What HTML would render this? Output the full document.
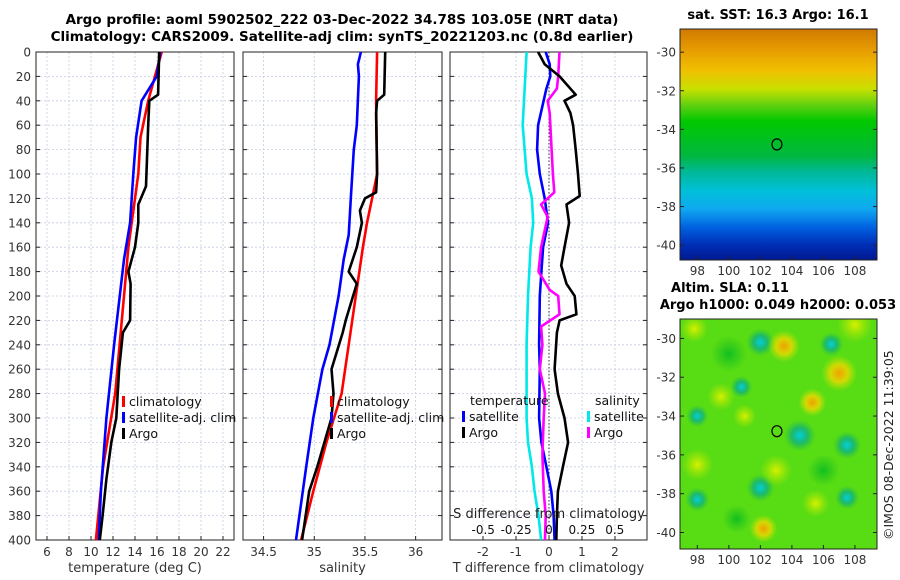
<!DOCTYPE html>
<html><head><meta charset="utf-8"><style>
html,body{margin:0;padding:0;background:#fff}
svg{display:block;font-family:"DejaVu Sans","Liberation Sans",sans-serif}
</style></head><body>
<svg id="fig" width="900" height="580" viewBox="0 0 900 580" xmlns="http://www.w3.org/2000/svg">
<defs>
<linearGradient id="sstGrad" x1="0" y1="0" x2="0" y2="1">
<stop offset="0" stop-color="#d07a00"/><stop offset="0.1" stop-color="#e8a000"/>
<stop offset="0.18" stop-color="#f0c000"/><stop offset="0.26" stop-color="#c8e000"/>
<stop offset="0.33" stop-color="#60d010"/><stop offset="0.4" stop-color="#00c800"/>
<stop offset="0.55" stop-color="#00b840"/><stop offset="0.62" stop-color="#00b898"/>
<stop offset="0.7" stop-color="#00c0d8"/><stop offset="0.78" stop-color="#10a8f0"/>
<stop offset="0.86" stop-color="#0060e0"/><stop offset="0.93" stop-color="#0030b8"/>
<stop offset="1" stop-color="#001890"/>
</linearGradient>
<radialGradient id="blobC"><stop offset="0" stop-color="#00d0e0"/><stop offset="0.5" stop-color="#10b080" stop-opacity="0.8"/><stop offset="1" stop-color="#20c040" stop-opacity="0"/></radialGradient>
<radialGradient id="blobO"><stop offset="0" stop-color="#f0a000"/><stop offset="0.5" stop-color="#f0d800" stop-opacity="0.8"/><stop offset="1" stop-color="#c0e800" stop-opacity="0"/></radialGradient>
<radialGradient id="blobY"><stop offset="0" stop-color="#d8f000"/><stop offset="1" stop-color="#b0e800" stop-opacity="0"/></radialGradient>
<radialGradient id="blobG"><stop offset="0" stop-color="#10c020"/><stop offset="1" stop-color="#20c020" stop-opacity="0"/></radialGradient>
</defs>
<g font-weight="bold" font-size="13.5" text-anchor="middle" fill="#000">
<text x="342" y="24">Argo profile: aoml 5902502_222 03-Dec-2022 34.78S 103.05E (NRT data)</text>
<text x="342" y="41">Climatology: CARS2009. Satellite-adj clim: synTS_20221203.nc (0.8d earlier)</text>
</g>
<g id="panels"></g>
<g id="maps"></g>
<text transform="translate(893,540) rotate(-90)" font-size="12.5" fill="#222">©IMOS 08-Dec-2022 11:39:05</text>
</svg>
<script>
// ---- data (depth in m) ----
const tClimDepth=[0,40,70,100,160,220,280,340,400];
const tClimVal=[16.43,15.2,14.5,14.3,13.4,12.8,12.2,11.1,10.45];
const tSatDepth=[0,20,40,70,100,140,170,240,300,360,400];
const tSatVal=[16.3,15.97,14.6,14.1,13.85,13.55,13.0,12.1,11.4,10.9,10.7];
const tArgoDepth=[0,35,40,60,110,125,140,160,180,190,220,230,260,300,320,350,380,400];
const tArgoVal=[16.2,16.1,15.3,15.2,15.0,14.3,14.3,14.0,13.4,13.6,13.55,12.9,12.55,12.3,11.85,11.4,11.05,10.8];
const sClimDepth=[0,40,100,120,140,160,200,240,280,320,360,400];
const sClimVal=[35.62,35.61,35.62,35.57,35.52,35.48,35.41,35.34,35.27,35.12,34.99,34.87];
const sSatDepth=[0,10,20,60,80,120,150,170,200,240,260,300,340,400];
const sSatVal=[35.46,35.43,35.44,35.42,35.39,35.36,35.34,35.29,35.24,35.15,35.08,34.99,34.92,34.82];
const sArgoDepth=[0,35,40,50,100,115,120,130,140,160,180,190,220,230,260,280,300,320,340,360,400];
const sArgoVal=[35.7,35.69,35.62,35.61,35.62,35.61,35.5,35.45,35.47,35.42,35.34,35.42,35.31,35.28,35.17,35.19,35.17,35.1,35.03,34.95,34.88];
const dTSatDepth=[0,10,20,30,60,80,100,120,140,160,180,200,240,260,300,320,340,360,380,400];
const dTSatVal=[-0.1,0.02,0.04,-0.08,-0.33,-0.36,-0.28,-0.13,-0.03,-0.18,-0.23,-0.28,-0.3,-0.28,-0.3,-0.23,-0.08,0.07,0.14,0.17];
const dTArgoDepth=[0,10,20,35,40,50,60,80,100,118,125,140,160,175,190,200,215,220,230,260,280,300,320,340,360,380,400];
const dTArgoVal=[-0.33,-0.13,0.32,0.81,0.47,0.65,0.73,0.81,0.88,0.93,0.53,0.61,0.47,0.37,0.53,0.78,0.83,0.32,0.24,0.17,0.27,0.47,0.58,0.42,0.27,0.24,0.22];
const dSSatDepth=[0,60,100,120,140,160,200,240,300,320,340,360,380,400];
const dSSatVal=[-0.17,-0.2,-0.17,-0.13,-0.12,-0.14,-0.16,-0.17,-0.17,-0.16,-0.13,-0.11,-0.08,-0.06];
const dSArgoDepth=[0,20,30,40,50,80,100,115,125,135,160,180,195,200,215,225,240,260,280,300,330,360,380,400];
const dSArgoVal=[0.08,0.07,0.06,-0.01,0.005,0.02,0.03,0.04,-0.06,-0.01,-0.06,-0.08,0.005,0.07,0.08,-0.06,-0.05,-0.07,-0.03,-0.04,-0.05,-0.04,-0.025,-0.03];
const depthTicks=[0,20,40,60,80,100,120,140,160,180,200,220,240,260,280,300,320,340,360,380,400];
const tTicks=[6,8,10,12,14,16,18,20,22];
const sTicks=[34.5,35,35.5,36];
const sTickLabels=["34.5","35","35.5","36"];
const dTTicks=[-2,-1,0,1,2];
const dSTicks=[-0.5,-0.25,0,0.25,0.5];
const dSTickLabels=["-0.5","-0.25","0","0.25","0.5"];
const latTicks=[-30,-32,-34,-36,-38,-40];
const lonTicks=[98,100,102,104,106,108];
const argoLon=103.05, argoLat=-34.78;

const NS="http://www.w3.org/2000/svg";
function mk(tag,attrs,parent){const e=document.createElementNS(NS,tag);for(const k in attrs)e.setAttribute(k,attrs[k]);parent.appendChild(e);return e;}
const TOP=52,BOT=540;
const yD=d=>TOP+(BOT-TOP)*d/400;
const panelsG=document.getElementById('panels');

function panel(name,x0,x1,vmin,vmax,ticks,labels,xlabel,showDepth){
  const g=mk('g',{},panelsG);
  
  
  const xf=v=>x0+(x1-x0)*(v-vmin)/(vmax-vmin);
  ticks.forEach((t,i)=>{
    const gl=mk('line',{x1:xf(t),x2:xf(t),y1:TOP,y2:BOT,stroke:'#c4cce4','stroke-width':0.8,'stroke-dasharray':'2,2'},g);
    
    
    mk('line',{x1:xf(t),x2:xf(t),y1:BOT,y2:BOT-4,stroke:'#222'},g);
    const tl=mk('text',{x:xf(t),y:BOT+16,'font-size':12,'text-anchor':'middle',fill:'#333'},g);
    tl.textContent=labels[i];
    
    
  });
  depthTicks.forEach(d=>{
    if(d>0&&d<400){const gl=mk('line',{x1:x0,x2:x1,y1:yD(d),y2:yD(d),stroke:'#c4cce4','stroke-width':0.8,'stroke-dasharray':'2,2'},g);
    
    }
    mk('line',{x1:x0,x2:x0+4,y1:yD(d),y2:yD(d),stroke:'#222'},g);
    mk('line',{x1:x1,x2:x1-4,y1:yD(d),y2:yD(d),stroke:'#222'},g);
    if(showDepth){const tl=mk('text',{x:x0-5,y:yD(d)+4.5,'font-size':12,'text-anchor':'end',fill:'#333'},g);
      tl.textContent=d;
      
      }
  });
  const fr=mk('rect',{x:x0,y:TOP,width:x1-x0,height:BOT-TOP,fill:'none',stroke:'#222','stroke-width':1},g);
  
  
  const xl=mk('text',{x:(x0+x1)/2,y:572,'font-size':13,'text-anchor':'middle',fill:'#333'},g);
  xl.textContent=xlabel;
  
  
  return {g,xf};
}
function line(p,name,depths,vals,color,xf2){
  const f=xf2||p.xf;
  const pts=depths.map((d,i)=>f(vals[i]).toFixed(1)+','+yD(d).toFixed(1)).join(' ');
  const l=mk('polyline',{points:pts,fill:'none',stroke:color,'stroke-width':2.6,'stroke-linejoin':'round'},p.g);
  
  
}
function legend(p,x,y,entries,name){
  const lg=mk('g',{},p.g);
  
  
  entries.forEach((e,i)=>{
    const yy=y+i*16;
    if(e[1]) mk('rect',{x:x,y:yy-10,width:3,height:11,fill:e[1]},lg);
    const t=mk('text',{x:x+(e[1]?7:0),y:yy,'font-size':12.5,fill:'#111'},lg);
    t.textContent=e[0];
    
    
  });
}
const p1=panel('temperature-panel',36,234,5,23,tTicks,tTicks.map(String),'temperature (deg C)',true);
line(p1,'temp-climatology-line',tClimDepth,tClimVal,'#ff0000');
line(p1,'temp-satellite-line',tSatDepth,tSatVal,'#0000ff');
line(p1,'temp-argo-line',tArgoDepth,tArgoVal,'#000000');
legend(p1,122,406,[['climatology','#ff0000'],['satellite-adj. clim','#0000ff'],['Argo','#000']],'temp-legend');
const p2=panel('salinity-panel',243,442,34.297,36.26,sTicks,sTickLabels,'salinity',false);
line(p2,'sal-climatology-line',sClimDepth,sClimVal,'#ff0000');
line(p2,'sal-satellite-line',sSatDepth,sSatVal,'#0000ff');
line(p2,'sal-argo-line',sArgoDepth,sArgoVal,'#000000');
legend(p2,330,406,[['climatology','#ff0000'],['satellite-adj. clim','#0000ff'],['Argo','#000']],'sal-legend');
const p3=panel('difference-panel',450,647,-3,2.97,dTTicks,dTTicks.map(String),'T difference from climatology',false);
const x0d=p3.xf(0);
const xS=v=>x0d+v*131.5;
const zl=mk('line',{x1:x0d,x2:x0d,y1:TOP,y2:BOT,stroke:'#333','stroke-width':1,'stroke-dasharray':'1.5,2'},p3.g);


line(p3,'sal-diff-satellite-line',dSSatDepth,dSSatVal,'#00e8e8',xS);
line(p3,'temp-diff-satellite-line',dTSatDepth,dTSatVal,'#0000ff');
line(p3,'sal-diff-argo-line',dSArgoDepth,dSArgoVal,'#ff00ff',xS);
line(p3,'temp-diff-argo-line',dTArgoDepth,dTArgoVal,'#000000');
dSTicks.forEach((t,i)=>{
  const tl=mk('text',{x:xS(t),y:534,'font-size':12,'text-anchor':'middle',fill:'#111'},p3.g);
  tl.textContent=dSTickLabels[i];
  
  
});
const st=mk('text',{x:549,y:518,'font-size':13,'text-anchor':'middle',fill:'#222'},p3.g);
st.textContent='S difference from climatology';


legend(p3,470,405,[['temperature',null]],'diff-legend-temp-title');
legend(p3,462,421,[['satellite','#0000ff'],['Argo','#000']],'diff-legend-temp');
legend(p3,595,405,[['salinity',null]],'diff-legend-sal-title');
legend(p3,587,421,[['satellite','#00e8e8'],['Argo','#ff00ff']],'diff-legend-sal');

const mapsG=document.getElementById('maps');
function map(name,top,bot,latTop,latBot,title1,fill){
  const L=680,R=877,lonL=96.9,lonR=109.4;
  const xf=lon=>L+(R-L)*(lon-lonL)/(lonR-lonL);
  const yf=lat=>top+(bot-top)*(lat-latTop)/(latBot-latTop);
  const g=mk('g',{},mapsG);
  
  
  fill(g,L,R,top,bot,xf,yf);
  mk('rect',{x:L,y:top,width:R-L,height:bot-top,fill:'none',stroke:'#222'},g);
  latTicks.forEach(t=>{
    mk('line',{x1:L,x2:L+4,y1:yf(t),y2:yf(t),stroke:'#222'},g);
    mk('line',{x1:R,x2:R-4,y1:yf(t),y2:yf(t),stroke:'#222'},g);
    const tl=mk('text',{x:L-4,y:yf(t)+4.5,'font-size':12,'text-anchor':'end',fill:'#333'},g);
    tl.textContent=t;
    
    
  });
  lonTicks.forEach(t=>{
    mk('line',{x1:xf(t),x2:xf(t),y1:bot,y2:bot-4,stroke:'#222'},g);
    const tl=mk('text',{x:xf(t),y:bot+15,'font-size':12,'text-anchor':'middle',fill:'#333'},g);
    tl.textContent=t;
    
    
  });
  const c=mk('ellipse',{cx:xf(argoLon),cy:yf(argoLat),rx:5,ry:5.5,fill:'none',stroke:'#000','stroke-width':1.2},g);
  
  
  title1.forEach(tt=>{
    const t=mk('text',{x:tt[1],y:tt[2],'font-size':13,'font-weight':'bold','text-anchor':'middle',fill:'#000'},g);
    t.textContent=tt[0];
    
    
  });
}
map('sst-map',29,260,-28.8,-40.77,[['sat. SST: 16.3 Argo: 16.1',778,19]],(g,L,R,T,B)=>{
  mk('rect',{x:L,y:T,width:R-L,height:B-T,fill:'url(#sstGrad)'},g);
});
const blobs=[[102,-30.2,'C',14],[106.5,-30.3,'C',12],[100.8,-32.5,'C',11],[104.5,-35.0,'C',16],[107.5,-35.5,'C',14],[98,-34,'C',11],[102,-37.7,'C',14],[98,-38.3,'C',12],[107.5,-38.2,'C',12],[100.5,-39.3,'G',14],
[103.5,-30.4,'O',16],[107,-31.8,'O',18],[105.3,-33.3,'O',14],[102.2,-39.8,'O',14],[98,-36.5,'Y',16],[99.5,-33,'Y',14],[103,-36.8,'Y',16],[97.8,-29.5,'Y',14],[108,-29.3,'Y',18],[105.5,-38.5,'Y',14],[101,-34,'Y',12],[106,-36.8,'G',16],[100,-30.8,'G',18]];
map('sla-map',319,549,-29,-40.85,[['Altim. SLA: 0.11',730,292],['Argo h1000: 0.049 h2000: 0.053',778,309]],(g,L,R,T,B,xf,yf)=>{
  mk('rect',{x:L,y:T,width:R-L,height:B-T,fill:'#58dc14'},g);
  const cp=mk('clipPath',{id:'slaClip'},g);mk('rect',{x:L,y:T,width:R-L,height:B-T},cp);
  const cg=mk('g',{},g);
  cg.setAttribute('clip-path','url(#slaClip)');
  blobs.forEach(b=>{mk('circle',{cx:xf(b[0]),cy:yf(b[1]),r:b[3],fill:'url(#blob'+b[2]+')'},cg);});
});
</script>
</body></html>
